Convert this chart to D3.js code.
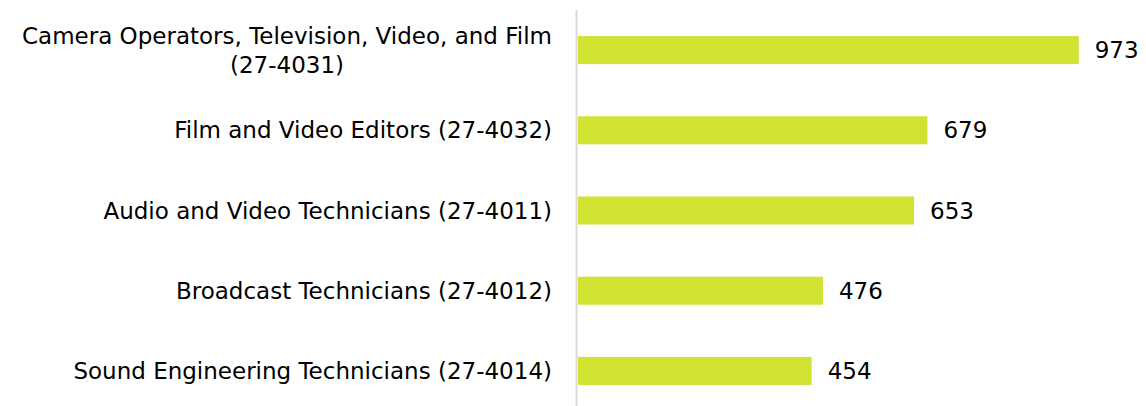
<!DOCTYPE html>
<html>
<head>
<meta charset="utf-8">
<script src="https://cdn.jsdelivr.net/npm/d3@7"></script>
<style>
  body { margin: 0; background: #fff; }
  svg { display: block; }
</style>
</head>
<body>
<svg id="chart" width="1146" height="406"></svg>
<script>
// occupations (label lines) and counts
const categories = [
  "Camera Operators, Television, Video, and Film\n(27-4031)",
  "Film and Video Editors (27-4032)",
  "Audio and Video Technicians (27-4011)",
  "Broadcast Technicians (27-4012)",
  "Sound Engineering Technicians (27-4014)"
];
const values = [973, 679, 653, 476, 454];

const data = categories.map((c, i) => ({ cat: c, val: values[i] }));

const svg = d3.select("#chart");
const font = "'DejaVu Sans', sans-serif";

const y = d3.scaleBand()
  .domain(categories)
  .range([10, 411])
  .padding(0);

const x = d3.scaleLinear()
  .domain([0, 1000])
  .range([578, 1092.6]);

const barH = 28;

// bars
svg.selectAll("rect.bar")
  .data(data)
  .enter()
  .append("rect")
  .attr("class", "bar")
  .attr("x", x(0))
  .attr("y", d => y(d.cat) + y.bandwidth() / 2 - barH / 2)
  .attr("width", d => x(d.val) - x(0))
  .attr("height", barH)
  .attr("fill", "#d1e231");

// axis line
svg.append("line")
  .attr("x1", x(0) - 1.5).attr("x2", x(0) - 1.5)
  .attr("y1", 10).attr("y2", 406)
  .attr("stroke", "#d9d9d9")
  .attr("stroke-width", 2);

// category labels
const lab = svg.selectAll("text.cat")
  .data(data)
  .enter()
  .append("text")
  .attr("class", "cat")
  .attr("text-anchor", "middle")
  .style("font-family", font)
  .style("font-size", "23px")
  .style("fill", "#000");

lab.each(function (d) {
  const lines = d.cat.split("\n");
  const t = d3.select(this);
  const cy = y(d.cat) + y.bandwidth() / 2;
  const lh = 29;
  lines.forEach((l, i) => {
    t.append("tspan")
      .attr("y", cy + (i - (lines.length - 1) / 2) * lh)
      .attr("dy", "0.35em")
      .text(l);
  });
});
// right-align the block, centre each line within it
lab.each(function () {
  const t = d3.select(this);
  const tsp = t.selectAll("tspan").nodes();
  const w = d3.max(tsp, n => n.getComputedTextLength());
  t.selectAll("tspan").attr("x", 552 - w / 2);
});

// value labels
svg.selectAll("text.val")
  .data(data)
  .enter()
  .append("text")
  .attr("class", "val")
  .attr("x", d => x(d.val) + 16)
  .attr("y", d => y(d.cat) + y.bandwidth() / 2)
  .attr("dy", "0.35em")
  .style("font-family", font)
  .style("font-size", "23px")
  .style("fill", "#000")
  .text(d => d.val);
</script>
</body>
</html>
